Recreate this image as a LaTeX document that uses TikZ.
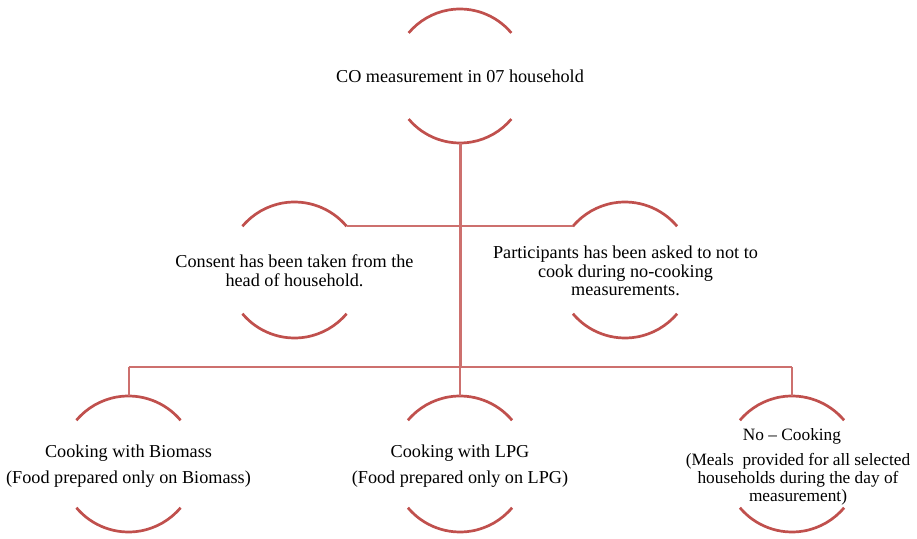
\documentclass[tikz,border=0pt]{standalone}
\usepackage{fontspec}
\setmainfont{Liberation Serif}
\definecolor{arcred}{RGB}{192,80,77}
\definecolor{linered}{RGB}{205,112,110}
\newcommand\bubblearcs[2]{%
  \draw[arcst] ([shift={(40:#2)}]#1) arc[start angle=40,end angle=140,radius=#2];
  \draw[arcst] ([shift={(220:#2)}]#1) arc[start angle=220,end angle=320,radius=#2];}
\tikzset{
  arcst/.style={draw=arcred,line width=2.7pt},
  conn/.style={draw=linered,line width=2pt},
  stem/.style={draw=linered,line width=3pt},
  txt/.style={align=center,inner sep=0pt,font=\fontsize{18.2pt}{18.8pt}\selectfont},
  smalltxt/.style={align=center,inner sep=0pt,font=\fontsize{17.3pt}{18.2pt}\selectfont}
}
\begin{document}
\begin{tikzpicture}[x=1pt,y=1pt]
\useasboundingbox (0,0) rectangle (917,538);
% bubble centres
\coordinate (topc) at (460,462);
\coordinate (conc) at (294.5,268);
\coordinate (parc) at (625,268);
\coordinate (bioc) at (128.5,74);
\coordinate (lpgc) at (460,74);
\coordinate (nocc) at (792,74);
% texts
\node[txt] (top) at (topc) {CO measurement in 07 household};
\node[txt] (con) at (294.5,267.5) {Consent has been taken from the\\head of household.};
\node[txt] (par) at (625.5,267) {Participants has been asked to not to\\cook during no-cooking\\measurements.};
\node[txt] (bio) at (128.5,72) {Cooking with Biomass\\[7pt](Food prepared only on Biomass)};
\node[txt] (lpg) at (460,72) {Cooking with LPG\\[7pt](Food prepared only on LPG)};
\node[smalltxt] (noc) at (798,71) {No – Cooking\hspace*{12pt}\\[7pt](Meals\ \ provided for all selected\\households during the day of\\measurement)};
% arcs
\bubblearcs{topc}{67pt}
\bubblearcs{conc}{68pt}
\bubblearcs{parc}{68pt}
\bubblearcs{bioc}{68pt}
\bubblearcs{lpgc}{68pt}
\bubblearcs{nocc}{68pt}
% connector points
\coordinate (tops) at ([yshift=-67pt]topc);
\coordinate (conne) at ([shift={(40:68pt)}]conc);
\coordinate (parnw) at ([shift={(140:68pt)}]parc);
\coordinate (barm) at (460,171);
\coordinate (barl) at (128.5,171);
\coordinate (barr) at (792,171);
\coordinate (biot) at ([yshift=68pt]bioc);
\coordinate (lpgt) at ([yshift=68pt]lpgc);
\coordinate (noct) at ([yshift=68pt]nocc);
% connectors
\draw[conn] (conne) -- (parnw);
\draw[stem] (tops) -- (barm);
\draw[conn] (barl) -- (barr);
\draw[conn] (barl) -- (biot);
\draw[conn] (barm) -- (lpgt);
\draw[conn] (barr) -- (noct);
\end{tikzpicture}
\end{document}
